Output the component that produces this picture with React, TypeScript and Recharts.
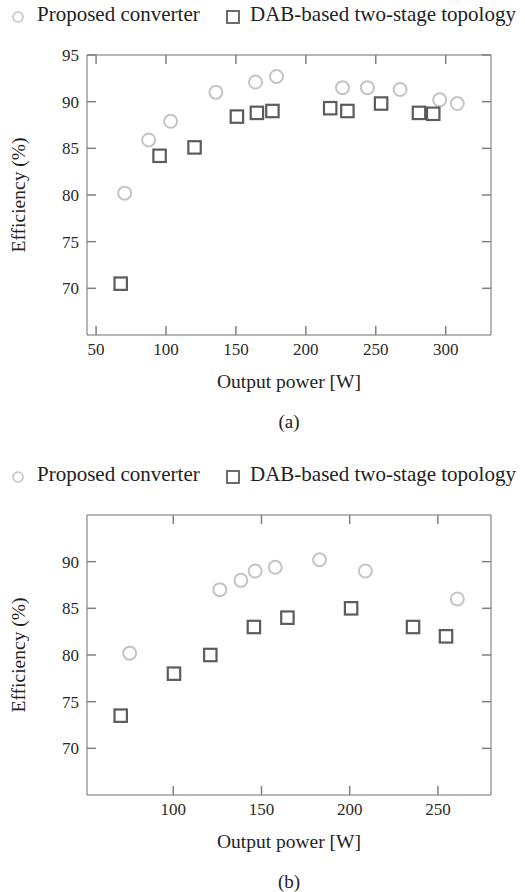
import React from "react";
import { ScatterChart, Scatter, XAxis, YAxis, ReferenceLine } from "recharts";

// panel (a)
const powerA_proposed = [70.4, 87.6, 103.3, 135.7, 164.0, 179.0, 226.2, 244.0, 267.4, 295.7, 308.3];
const effA_proposed = [80.2, 85.9, 87.9, 91.0, 92.1, 92.7, 91.5, 91.5, 91.3, 90.2, 89.8];
const powerA_dab = [67.6, 95.4, 120.4, 150.7, 165.0, 176.1, 217.4, 229.7, 253.8, 280.9, 291.1];
const effA_dab = [70.5, 84.2, 85.1, 88.4, 88.8, 89.0, 89.3, 89.0, 89.8, 88.8, 88.7];
const xTicksA = [50, 100, 150, 200, 250, 300];
const yTicksA = [70, 75, 80, 85, 90, 95];

// panel (b)
const powerB_proposed = [75.3, 126.4, 138.3, 146.4, 157.8, 182.9, 208.9, 261.0];
const effB_proposed = [80.2, 87.0, 88.0, 89.0, 89.4, 90.2, 89.0, 86.0];
const powerB_dab = [70.2, 100.4, 121.0, 145.7, 164.7, 200.8, 235.9, 254.6];
const effB_dab = [73.5, 78.0, 80.0, 83.0, 84.0, 85.0, 83.0, 82.0];
const xTicksB = [100, 150, 200, 250];
const yTicksB = [70, 75, 80, 85, 90];

const legendNames = ["Proposed converter", "DAB-based two-stage topology"];

const FONT = "'Liberation Serif', 'Times New Roman', serif";
const AXIS = "#6e6e6e";
const TICK = "#808080";
const LIGHT = "#c4c4c4";
const DARK = "#5c5c5c";
const TL = 9; // inward tick length (px)
const GAP = 8; // label gap from axis
const Y_DOMAIN: [number, number] = [65, 95];
const PLOT_W = 404;
const PLOT_H = 280;

const zip = (xs: number[], ys: number[]) => xs.map((x, i) => ({ x, y: ys[i] }));

const Circle = (p: any) => (
  <circle cx={p.cx} cy={p.cy} r={6.5} fill="none" stroke={LIGHT} strokeWidth={2} />
);
const Square = (p: any) => (
  <rect x={p.cx - 6.2} y={p.cy - 6.2} width={12.4} height={12.4} fill="none" stroke={DARK} strokeWidth={2.2} />
);

// bottom/left ticks point into the plot, like pgfplots
const BottomTick = (p: any) => {
  const x = Number(p.x);
  const y = Number(p.y);
  return (
    <g>
      <rect x={x - 0.75} y={y - GAP - TL} width={1.5} height={TL} fill={TICK} />
      <text x={x} y={y} dy="0.72em" textAnchor="middle" fontFamily={FONT} fontSize={17} fill="#2a2a2a">
        {p.payload.value}
      </text>
    </g>
  );
};
const LeftTick = (p: any) => {
  const x = Number(p.x);
  const y = Number(p.y);
  return (
    <g>
      <rect x={x + GAP} y={y - 0.75} width={TL} height={1.5} fill={TICK} />
      <text x={x} y={y} dy="0.36em" textAnchor="end" fontFamily={FONT} fontSize={17} fill="#2a2a2a">
        {p.payload.value}
      </text>
    </g>
  );
};

function Legend() {
  return (
    <div style={{ position: "absolute", top: 0, left: 0, width: 525, height: 34, fontFamily: FONT, fontSize: 21, color: "#222" }}>
      <svg width={525} height={34} style={{ position: "absolute", left: 0, top: 0 }}>
        <circle cx={18} cy={17} r={5} fill="none" stroke={LIGHT} strokeWidth={1.6} />
        <rect x={227} y={11} width={12} height={12} fill="none" stroke={DARK} strokeWidth={1.8} />
      </svg>
      <span style={{ position: "absolute", left: 37, top: 2, whiteSpace: "nowrap" }}>{legendNames[0]}</span>
      <span style={{ position: "absolute", left: 250, top: 2, whiteSpace: "nowrap" }}>{legendNames[1]}</span>
    </div>
  );
}

type PanelProps = {
  proposed: { x: number; y: number }[];
  dab: { x: number; y: number }[];
  xTicks: number[];
  yTicks: number[];
  xDomain: [number, number];
  caption: string;
  height: number;
};

function Panel({ proposed, dab, xTicks, yTicks, xDomain, caption, height }: PanelProps) {
  const [x0, x1] = xDomain;
  const [y0, y1] = Y_DOMAIN;
  // tick length converted to data units for the mirrored top/right ticks
  const dy = ((y1 - y0) * TL) / PLOT_H;
  const dx = ((x1 - x0) * TL) / PLOT_W;
  return (
    <div style={{ position: "relative", width: 525, height }}>
      <Legend />
      <div style={{ position: "absolute", top: 0, left: 0 }}>
        <ScatterChart width={525} height={440} margin={{ top: 55, right: 34, bottom: 50, left: 0 }}>
          <XAxis
            dataKey="x"
            type="number"
            domain={xDomain}
            ticks={xTicks}
            interval={0}
            height={55}
            stroke={AXIS}
            tickSize={0}
            tickMargin={GAP}
            tickLine={false}
            tick={BottomTick}
            label={{ value: "Output power [W]", position: "insideBottom", offset: 2, style: { fontFamily: FONT, fontSize: 19.5, fill: "#222" } }}
          />
          <YAxis
            dataKey="y"
            type="number"
            domain={Y_DOMAIN}
            ticks={yTicks}
            interval={0}
            width={87}
            stroke={AXIS}
            tickSize={0}
            tickMargin={GAP}
            tickLine={false}
            tick={LeftTick}
            label={{ value: "Efficiency (%)", angle: -90, position: "insideLeft", offset: 18, style: { textAnchor: "middle", fontFamily: FONT, fontSize: 19.5, fill: "#222" } }}
          />
          <ReferenceLine y={y1} stroke={AXIS} strokeWidth={1} />
          <ReferenceLine x={x1} stroke={AXIS} strokeWidth={1} />
          {xTicks.map((t) => (
            <ReferenceLine key={"tx" + t} segment={[{ x: t, y: y1 }, { x: t, y: y1 - dy }]} stroke={TICK} strokeWidth={1.5} />
          ))}
          {yTicks.map((t) => (
            <ReferenceLine key={"ty" + t} segment={[{ x: x1 - dx, y: t }, { x: x1, y: t }]} stroke={TICK} strokeWidth={1.5} />
          ))}
          <Scatter name={legendNames[0]} data={proposed} shape={Circle} isAnimationActive={false} />
          <Scatter name={legendNames[1]} data={dab} shape={Square} isAnimationActive={false} />
        </ScatterChart>
      </div>
      <div style={{ position: "absolute", top: 411, left: 0, width: 578, textAlign: "center", fontFamily: FONT, fontSize: 19, color: "#222" }}>
        {caption}
      </div>
    </div>
  );
}

export default function App() {
  return (
    <div style={{ position: "absolute", left: 0, top: 0, width: 525, height: 892, background: "#fff" }}>
      <Panel
        proposed={zip(powerA_proposed, effA_proposed)}
        dab={zip(powerA_dab, effA_dab)}
        xTicks={xTicksA}
        yTicks={yTicksA}
        xDomain={[43.5, 332.4]}
        caption="(a)"
        height={460}
      />
      <Panel
        proposed={zip(powerB_proposed, effB_proposed)}
        dab={zip(powerB_dab, effB_dab)}
        xTicks={xTicksB}
        yTicks={yTicksB}
        xDomain={[51.1, 280.1]}
        caption="(b)"
        height={432}
      />
    </div>
  );
}
